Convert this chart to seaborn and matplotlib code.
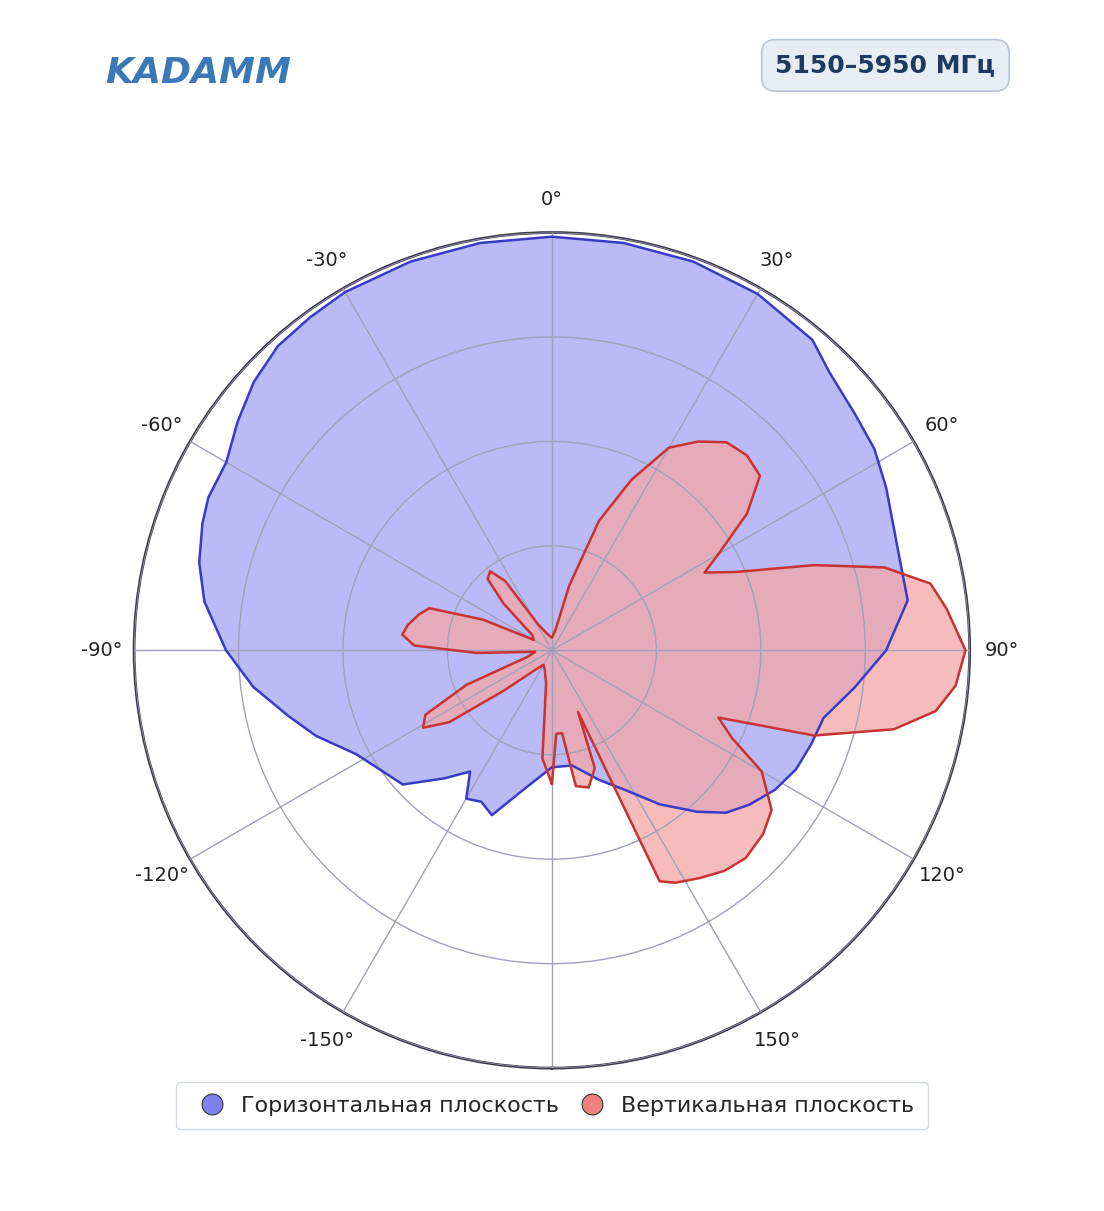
import numpy as np
import matplotlib
matplotlib.use("Agg")
import matplotlib.pyplot as plt
import seaborn as sns
import pandas as pd
from matplotlib.lines import Line2D

sns.set_style("white")
plt.rcParams['font.family'] = ['DejaVu Sans']

h_angles = [-180,-170,-160,-155,-150,-146,-140,-132,-125,-118,-110,-104,-97,-90,-82,-76,-70,-66,-60,-54,-48,-42,-36,-30,-20,-10,0,
            10,20,30,40,45,52,58,64,70,76,82,90,97,104,110,116,122,128,133,138,145,152,160,170,180]
h_vals = [0.28,0.33,0.42,0.40,0.41,0.35,0.40,0.48,0.50,0.53,0.60,0.65,0.72,0.78,0.84,0.87,0.89,0.90,0.90,0.93,0.96,0.98,0.985,0.99,0.99,0.99,0.99,
          0.99,0.99,0.985,0.97,0.94,0.92,0.91,0.89,0.87,0.86,0.86,0.80,0.73,0.67,0.66,0.65,0.63,0.60,0.57,0.52,0.45,0.38,0.33,0.28,0.28]

v_angles = [-180,-175,-170,-160,-150,-140,-130,-125,-121,-117,-112,-105,-95,-92,-88,-84,-80,-75,-71,-66,-60,-52,-46,-42,-38,-34,-28,-15,0,
            10,15,20,25,30,35,40,45,50,55,60,63,67,72,76,80,84,90,95,99,103,108,112,116,120,126,131,137,142,147,152,155,157,160,165,170,173,177,180]
v_vals = [0.32,0.26,0.08,0.05,0.04,0.06,0.15,0.30,0.36,0.34,0.22,0.06,0.04,0.18,0.33,0.36,0.35,0.33,0.31,0.18,0.05,0.06,0.16,0.23,0.24,0.20,0.07,0.04,0.03,
          0.05,0.16,0.33,0.45,0.56,0.61,0.65,0.66,0.65,0.57,0.46,0.41,0.48,0.66,0.82,0.92,0.95,0.99,0.97,0.93,0.84,0.66,0.43,0.48,0.58,0.65,0.67,0.68,0.67,0.65,0.63,0.61,0.16,0.30,0.34,0.33,0.20,0.20,0.32]

fig = plt.figure(figsize=(11.04, 12.11), dpi=100)
ax = fig.add_axes([0.1214, 0.118, 0.757, 0.690], projection='polar')
ax.set_theta_zero_location('N')
ax.set_theta_direction(-1)

blue_line, blue_fill = '#3a3ac8', '#b3b3f5'
red_line, red_fill = '#c83232', '#f4a6a6'

for angs, vals, lc, fc, al in [(h_angles, h_vals, blue_line, blue_fill, 0.9), (v_angles, v_vals, red_line, red_fill, 0.75)]:
    th = np.deg2rad(angs)
    df = pd.DataFrame({'theta': th, 'r': vals})
    ax.fill(th, vals, color=fc, alpha=al, zorder=2, lw=0)
    sns.lineplot(data=df, x='theta', y='r', sort=False, color=lc, lw=1.8, ax=ax, zorder=3)

ax.set_xlim(-np.pi, np.pi)
ax.set_ylim(0, 1)
ax.set_xlabel(''); ax.set_ylabel('')
ticks = [0, 30, 60, 90, 120, 150, 180, -150, -120, -90, -60, -30]
ax.set_xticks(np.deg2rad(ticks))
ax.set_xticklabels([f'{t}°' if t != 180 else '' for t in ticks], fontsize=14, color='#222222')
ax.tick_params(axis='x', pad=13)
ax.set_yticks([0.25, 0.5, 0.75, 1.0])
ax.set_yticklabels([])
ax.grid(True, color='#a0a0b8', lw=1)
ax.spines['polar'].set_color('#3a3a4a')
ax.spines['polar'].set_linewidth(2)
ax.set_axisbelow(False)

fig.text(0.095, 0.94, 'KADAMM', fontsize=26, fontweight='bold', color='#3a78b8', ha='left', va='center', fontstyle='italic')
fig.text(0.802, 0.946, '5150–5950 МГц', fontsize=18, fontweight='bold', color='#1e3a5f', ha='center', va='center',
         bbox=dict(boxstyle='round,pad=0.55', fc='#e6edf5', ec='#b8c4d4', lw=1.2))

handles = [Line2D([], [], marker='o', ls='', markersize=15, markerfacecolor='#8080ee', markeredgecolor='#333333', markeredgewidth=0.8),
           Line2D([], [], marker='o', ls='', markersize=15, markerfacecolor='#ee8080', markeredgecolor='#333333', markeredgewidth=0.8)]
fig.legend(handles, ['Горизонтальная плоскость', 'Вертикальная плоскость'], loc='center', bbox_to_anchor=(0.5, 0.087),
           ncol=2, fontsize=16, frameon=True, edgecolor='#c8d0dc', handletextpad=0.3, columnspacing=0.5, borderpad=0.6)

fig.savefig('out.png', dpi=100, facecolor='white')
